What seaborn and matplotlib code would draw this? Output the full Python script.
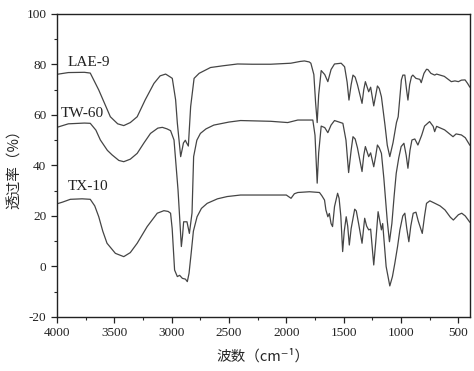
import numpy as np
import pandas as pd
import matplotlib
matplotlib.use("Agg")
import matplotlib.pyplot as plt
import seaborn as sns
from matplotlib.ticker import MultipleLocator


# FTIR spectra (wavenumber cm-1, transmittance %)

lae9_wn = [4000, 3900, 3760, 3709, 3635, 3534, 3470, 3417, 3360, 3300, 3230, 3154,
           3100, 3052, 3010, 2994, 2965, 2950, 2921, 2905, 2897, 2880, 2870, 2854,
           2834, 2804, 2760, 2717, 2661, 2550, 2425, 2300, 2136, 1961, 1880, 1842,
           1800, 1786, 1760, 1745, 1731, 1718, 1696, 1665, 1638, 1610, 1580, 1522,
           1492, 1470, 1454, 1435, 1419, 1400, 1380, 1340, 1325, 1311, 1282, 1265,
           1238, 1220, 1206, 1190, 1171, 1140, 1120, 1098, 1070, 1040, 1025, 997,
           984, 967, 952, 940, 925, 909, 897, 870, 836, 824, 800, 778, 766, 740,
           707, 690, 623, 562, 530, 500, 474, 442, 420, 400]
lae9_t = [76.1, 76.8, 76.9, 76.6, 69.9, 59.3, 56.5, 55.8, 57.0, 59.3, 66.0, 72.5,
          75.5, 76.2, 75.0, 74.5, 66.0, 56.8, 43.5, 47.0, 48.9, 50.0, 49.0, 47.7,
          63.3, 74.5, 76.5, 77.5, 78.8, 79.5, 80.2, 80.1, 80.1, 80.5, 81.2, 81.4,
          81.0, 80.5, 76.0, 65.0, 57.0, 68.0, 77.6, 76.0, 73.2, 78.0, 80.2, 80.5,
          79.1, 73.0, 65.9, 72.0, 75.8, 75.0, 72.0, 64.6, 70.0, 73.2, 69.2, 71.0,
          63.6, 68.0, 71.5, 70.5, 67.2, 56.0, 48.0, 43.5, 49.0, 57.0, 59.3, 73.9,
          75.8, 75.8, 70.0, 65.9, 72.0, 75.2, 75.8, 74.5, 74.1, 72.8, 76.5, 78.1,
          78.0, 76.5, 75.8, 76.2, 75.3, 73.2, 73.5, 73.2, 73.8, 73.9, 72.5, 71.0]

tw60_wn = [4000, 3900, 3760, 3709, 3660, 3621, 3560, 3519, 3460, 3417, 3360, 3300,
           3240, 3184, 3120, 3081, 3040, 3009, 2979, 2944, 2915, 2905, 2895, 2866,
           2845, 2822, 2808, 2780, 2749, 2700, 2632, 2500, 2399, 2136, 1988, 1900,
           1769, 1750, 1731, 1718, 1696, 1665, 1638, 1610, 1580, 1507, 1480, 1457,
           1435, 1419, 1400, 1380, 1340, 1325, 1311, 1282, 1265, 1238, 1220, 1206,
           1190, 1171, 1150, 1120, 1101, 1080, 1060, 1042, 1020, 999, 975, 955, 940,
           922, 905, 880, 853, 820, 795, 751, 720, 707, 690, 620, 547, 520, 474,
           440, 400]
tw60_t = [55.1, 56.5, 56.8, 56.7, 54.0, 50.1, 46.0, 44.2, 42.0, 41.5, 42.5, 44.8,
          49.0, 52.7, 54.8, 55.1, 54.5, 53.8, 50.1, 30.3, 7.9, 12.0, 17.7, 17.7,
          13.1, 21.2, 43.5, 50.0, 52.7, 54.5, 56.0, 57.2, 57.8, 57.5, 57.0, 58.0,
          58.0, 52.0, 33.0, 45.0, 55.6, 55.0, 53.0, 56.0, 57.8, 56.7, 50.0, 37.2,
          46.0, 51.4, 50.5, 47.0, 37.6, 44.0, 47.5, 43.5, 45.0, 39.5, 44.0, 48.1,
          47.0, 44.8, 35.0, 18.0, 9.8, 17.0, 28.0, 36.9, 43.0, 47.5, 48.8, 44.0, 38.9,
          46.0, 50.1, 50.5, 48.1, 52.0, 55.6, 57.4, 55.5, 53.4, 55.5, 54.1, 51.4, 52.5, 52.1,
          51.0, 48.0]

tx10_wn = [4000, 3950, 3883, 3780, 3709, 3670, 3635, 3600, 3563, 3490, 3417, 3360,
           3300, 3213, 3125, 3067, 3030, 3009, 2995, 2974, 2950, 2930, 2906, 2880,
           2863, 2848, 2830, 2810, 2778, 2740, 2690, 2600, 2515, 2399, 2134, 2000,
           1959, 1930, 1900, 1798, 1740, 1711, 1690, 1667, 1655, 1638, 1625, 1610,
           1597, 1580, 1553, 1540, 1525, 1509, 1495, 1478, 1465, 1451, 1435, 1404,
           1390, 1370, 1340, 1317, 1300, 1282, 1265, 1238, 1220, 1200, 1185, 1171,
           1160, 1130, 1098, 1075, 1054, 1030, 1010, 985, 967, 950, 932, 915, 894,
           870, 850, 815, 795, 778, 749, 704, 660, 617, 570, 544, 500, 471, 440, 400]
tx10_t = [24.8, 25.5, 26.6, 26.8, 26.6, 24.0, 19.7, 14.0, 9.2, 5.2, 3.9, 5.5,
          9.2, 15.8, 21.1, 22.1, 21.8, 21.1, 15.0, -1.4, -4.0, -3.5, -4.7, -5.0,
          -6.0, -2.7, 5.0, 14.0, 19.7, 23.0, 25.0, 26.8, 27.7, 28.3, 28.3, 28.3,
          27.0, 28.8, 29.3, 29.6, 29.4, 29.3, 28.0, 26.3, 22.4, 19.7, 21.0, 17.0,
          15.8, 23.7, 29.0, 27.0, 20.0, 5.9, 14.0, 19.7, 16.0, 8.5, 15.0, 22.7,
          22.0, 17.0, 9.2, 19.1, 16.0, 14.5, 14.8, 0.6, 10.0, 21.7, 18.0, 14.5,
          17.0, 0.0, -7.7, -4.0, 1.3, 8.0, 14.5, 20.0, 21.1, 15.0, 9.8, 16.0, 21.1,
          21.5, 18.0, 13.1, 20.0, 25.0, 26.0, 25.0, 24.0, 22.4, 19.5, 18.4, 20.5, 21.1, 20.0, 17.5]

series_names = ["LAE-9", "TW-60", "TX-10"]
label_wn = [3905, 3965, 3905]
label_t = [80.6, 60.4, 31.5]


sns.set_style("ticks")
plt.rcParams["font.family"] = ["Liberation Serif", "Noto Sans CJK SC"]
plt.rcParams["axes.unicode_minus"] = False

fig = plt.figure(figsize=(4.74, 3.71), dpi=100)
ax = fig.add_axes([0.120, 0.1456, 0.8713, 0.8167])

spectra = [(lae9_wn, lae9_t), (tw60_wn, tw60_t), (tx10_wn, tx10_t)]
for (wn, t), name in zip(spectra, series_names):
    df = pd.DataFrame({"wn": wn, "t": t})
    sns.lineplot(data=df, x="wn", y="t", ax=ax, color="#454545", linewidth=0.9,
                 sort=False, estimator=None)

# curve labels
for name, x, y in zip(series_names, label_wn, label_t):
    ax.text(x, y, name, fontsize=11, ha="left", va="center", color="#222222")

ax.set_xlim(4000, 400)
ax.set_ylim(-20, 100)
ax.xaxis.set_major_locator(MultipleLocator(500))
ax.xaxis.set_minor_locator(MultipleLocator(250))
ax.yaxis.set_major_locator(MultipleLocator(20))
ax.yaxis.set_minor_locator(MultipleLocator(10))
ax.tick_params(which="major", direction="out", length=4, width=0.9, labelsize=9.5,
               colors="#222222", top=False, right=False)
ax.tick_params(which="minor", direction="out", length=2.5, width=0.8,
               top=False, right=False)

for side in ["top", "right", "bottom", "left"]:
    ax.spines[side].set_visible(True)
    ax.spines[side].set_color("#222222")
    ax.spines[side].set_linewidth(1.0)

ax.set_xlabel("波数（cm⁻¹）", fontsize=10.5, labelpad=7,
              family=["Noto Sans CJK SC", "DejaVu Sans"])
ax.set_ylabel("透过率（%）", fontsize=10.5, labelpad=3,
              family=["Noto Sans CJK SC", "DejaVu Sans"])

fig.savefig("out.png", dpi=100)
